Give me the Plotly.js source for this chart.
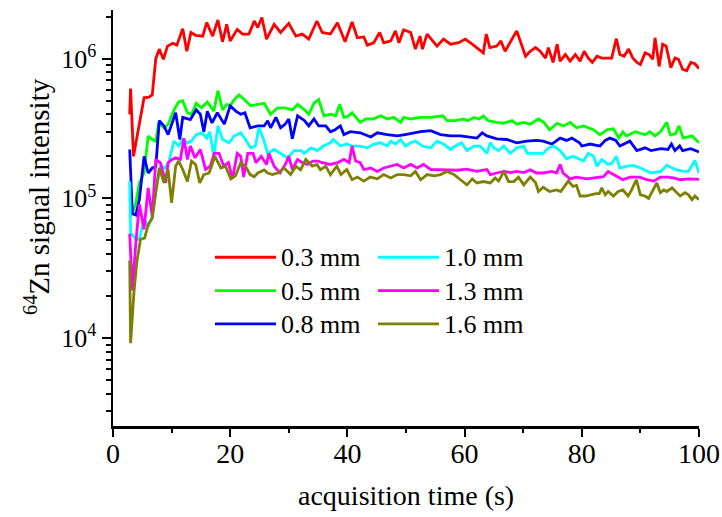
<!DOCTYPE html>
<html><head><meta charset="utf-8">
<script src="https://cdn.plot.ly/plotly-3.0.1.min.js"></script>
<style>html,body{margin:0;padding:0;background:#fff}#chart{width:722px;height:517px}</style>
</head><body><div id="chart"></div>
<script>
// acquisition time (s) and 64Zn signal intensity for each aperture
const tRed = [2.85,3.0,3.5,5.3,6.1,6.7,7.3,7.9,8.6,9.3,10.2,10.9,11.9,12.6,13.3,14.1,15.3,16.0,17.0,17.9,18.7,19.4,20.0,21.2,22.1,23.2,24.1,24.7,25.4,26.2,27.5,28.6,30.0,31.2,32.3,33.4,34.8,35.7,37.1,38.3,39.6,40.8,41.7,42.8,43.4,44.5,45.5,46.2,47.4,48.2,48.8,49.6,50.8,51.6,52.4,52.8,53.6,54.5,55.3,56.4,57.6,59.0,60.1,61.3,62.1,63.2,63.7,64.3,65.5,66.2,66.9,67.8,68.9,69.6,70.4,71.2,72.1,72.9,73.8,74.3,75.1,75.8,76.3,77.2,78.0,78.9,79.7,80.4,81.1,81.8,82.6,83.4,85.1,85.9,86.5,87.2,88.0,88.7,89.4,90.0,90.8,91.5,92.1,92.5,93.2,93.8,94.4,95.2,95.9,96.5,97.2,97.9,98.6,99.3,100];
const vRed = [4.0e5,6.1e5,2.0e5,5.25e5,5.3e5,5.5e5,1.0e6,1.17e6,9.9e5,1.23e6,1.29e6,1.25e6,1.64e6,1.13e6,1.54e6,1.47e6,1.45e6,1.81e6,1.45e6,1.89e6,1.32e6,1.76e6,1.34e6,1.62e6,1.50e6,1.50e6,1.86e6,1.67e6,1.97e6,1.38e6,1.76e6,1.54e6,1.79e6,1.45e6,1.50e6,1.38e6,1.86e6,1.54e6,1.50e6,1.81e6,1.32e6,1.83e6,1.41e6,1.43e6,1.25e6,1.30e6,1.54e6,1.30e6,1.34e6,1.58e6,1.30e6,1.61e6,1.54e6,1.17e6,1.45e6,1.17e6,1.50e6,1.34e6,1.23e6,1.38e6,1.27e6,1.30e6,1.38e6,1.27e6,1.20e6,1.10e6,1.50e6,1.20e6,1.23e6,1.34e6,1.13e6,1.32e6,1.58e6,1.30e6,1.04e6,1.13e6,1.20e6,1.13e6,1.01e6,1.20e6,9.4e5,1.27e6,9.6e5,1.07e6,9.6e5,1.07e6,9.6e5,1.13e6,1.01e6,9.4e5,1.04e6,1.01e6,1.01e6,1.39e6,1.07e6,1.04e6,1.17e6,1.01e6,9.4e5,9.1e5,1.10e6,1.07e6,9.9e5,1.41e6,8.8e5,1.27e6,1.23e6,8.6e5,1.01e6,9.9e5,8.4e5,8.2e5,9.4e5,9.2e5,8.5e5];

const tGreen = [2.85,3.3,3.9,4.5,5.3,6.0,6.7,7.3,7.8,8.7,9.4,10.4,11.2,11.9,12.7,13.4,14.2,15.1,16.1,17.2,17.9,18.7,19.4,20.0,20.7,21.5,22.4,23.5,24.7,25.8,26.9,28.1,29.3,30.6,31.5,32.7,33.4,34.3,35.1,36.0,37.1,38.0,38.7,39.4,40.0,40.8,42.2,43.1,44.4,45.7,46.8,47.9,49.1,49.6,50.8,52.5,54.2,55.3,56.3,57.0,58.4,59.9,60.5,61.6,62.5,63.2,64.0,65.5,66.6,68.1,68.9,70.1,71.2,72.6,73.5,74.5,75.8,76.9,78.0,79.1,80.3,82.0,83.1,84.3,85.4,86.3,87.0,87.6,89.1,90.8,91.6,92.5,93.4,94.5,95.1,96.0,96.6,97.3,98.8,100];
const vGreen = [7.4e4,7.8e4,9.3e4,1.29e5,1.52e5,2.79e5,2.64e5,2.57e5,3.47e5,3.2e5,3.38e5,4.3e5,4.9e5,5.0e5,4.1e5,4.0e5,4.8e5,4.45e5,4.9e5,4.2e5,5.9e5,4.3e5,4.7e5,4.6e5,5.1e5,5.5e5,5.1e5,4.6e5,4.7e5,4.8e5,4.0e5,4.45e5,4.45e5,4.3e5,4.7e5,4.3e5,4.0e5,4.8e5,5.1e5,3.9e5,4.0e5,3.9e5,4.7e5,3.8e5,3.85e5,4.1e5,3.5e5,3.7e5,3.7e5,3.9e5,3.7e5,3.8e5,3.5e5,3.8e5,3.7e5,3.8e5,3.8e5,3.85e5,3.9e5,3.6e5,3.6e5,3.7e5,3.6e5,3.8e5,3.7e5,3.9e5,3.6e5,3.5e5,3.45e5,3.6e5,3.4e5,3.5e5,3.4e5,3.7e5,3.5e5,3.1e5,3.45e5,3.3e5,3.5e5,3.2e5,3.3e5,3.1e5,2.85e5,3.1e5,3.15e5,2.7e5,3.0e5,2.8e5,3.0e5,2.85e5,3.0e5,2.8e5,3.0e5,3.5e5,2.85e5,2.9e5,3.3e5,2.7e5,2.8e5,2.5e5];

const tBlue = [2.85,3.3,3.9,4.5,5.3,6.0,6.7,7.3,7.9,8.7,9.4,10.0,10.7,11.4,11.9,13.2,14.2,14.9,15.5,16.1,16.9,17.8,19.0,20.0,21.0,21.8,22.5,23.4,24.7,25.8,26.4,26.9,27.8,28.6,29.4,30.0,30.6,31.5,32.7,33.4,34.3,35.1,36.3,37.1,37.9,38.8,39.4,40.5,42.2,44.0,45.1,46.8,48.5,49.6,51.3,52.5,54.2,55.9,57.6,59.3,62.1,63.0,63.8,65.5,67.2,68.9,70.6,72.3,73.4,74.9,76.3,77.4,78.3,79.6,80.0,81.4,83.1,84.0,84.8,85.8,86.5,88.2,89.4,90.8,91.8,93.5,94.7,95.3,95.9,96.7,97.2,98.6,100];
const vBlue = [2.24e5,7.8e4,7.6e4,9.8e4,2.0e5,1.52e5,1.65e5,1.68e5,3.6e5,3.3e5,2.86e5,3.38e5,4.1e5,2.64e5,3.8e5,3.67e5,4.3e5,4.0e5,3.0e5,4.2e5,3.47e5,4.1e5,3.4e5,4.6e5,4.2e5,4.0e5,4.1e5,3.2e5,3.3e5,3.3e5,3.6e5,3.2e5,3.8e5,3.2e5,3.4e5,3.7e5,2.67e5,3.9e5,3.6e5,3.3e5,3.7e5,3.3e5,3.3e5,3.0e5,3.1e5,3.3e5,2.86e5,3.0e5,2.95e5,2.75e5,2.95e5,2.86e5,2.8e5,2.85e5,2.95e5,3.0e5,3.05e5,2.86e5,2.8e5,2.8e5,2.7e5,2.95e5,2.8e5,2.67e5,2.64e5,2.5e5,2.57e5,2.6e5,2.57e5,2.45e5,2.7e5,2.6e5,2.7e5,2.5e5,2.37e5,2.45e5,2.37e5,2.6e5,2.7e5,2.6e5,2.37e5,2.57e5,2.2e5,2.3e5,2.2e5,2.27e5,2.24e5,2.45e5,2.2e5,2.37e5,2.2e5,2.27e5,2.15e5];

const tCyan = [2.85,3.0,3.9,4.5,5.3,6.0,6.7,7.3,8.1,8.9,9.5,10.4,11.2,11.9,12.7,13.4,14.2,15.2,16.0,16.5,17.2,17.9,18.7,19.8,20.7,21.8,22.6,23.5,24.3,24.9,25.7,26.4,27.5,28.6,29.8,30.9,32.1,32.6,33.8,34.9,35.9,37.1,37.6,38.8,39.9,40.8,42.2,43.4,44.5,45.7,46.8,47.4,48.2,49.1,49.9,50.8,51.6,52.8,54.2,55.3,56.4,57.6,58.4,59.5,60.4,61.6,62.7,63.8,64.4,65.0,65.8,66.7,67.8,68.9,70.1,70.7,72.3,73.4,74.3,75.2,76.3,77.4,78.5,80.3,81.1,82.0,82.6,83.4,84.5,85.1,85.9,86.5,87.7,88.8,90.0,91.8,93.5,94.5,95.4,96.2,97.4,98.2,99.3,100];
const vCyan = [1.32e5,5.7e4,5.1e4,5.1e4,7.2e4,6.3e4,7.4e4,1.15e5,1.7e5,1.65e5,1.8e5,2.57e5,2.37e5,2.64e5,2.5e5,2.57e5,2.86e5,2.95e5,2.7e5,3.0e5,2.0e5,3.3e5,2.64e5,2.5e5,2.8e5,2.95e5,2.64e5,2.3e5,2.37e5,3.2e5,2.64e5,2.1e5,2.24e5,2.1e5,1.95e5,2.2e5,2.2e5,2.1e5,2.3e5,2.2e5,2.37e5,2.5e5,2.64e5,2.37e5,2.45e5,2.37e5,2.37e5,2.3e5,2.45e5,2.5e5,2.37e5,2.57e5,2.45e5,2.64e5,2.37e5,2.5e5,2.57e5,2.37e5,2.3e5,2.57e5,2.45e5,2.24e5,2.37e5,2.5e5,2.2e5,2.37e5,2.37e5,2.1e5,2.5e5,2.3e5,2.2e5,2.37e5,2.1e5,2.3e5,2.37e5,2.1e5,2.1e5,2.1e5,2.3e5,2.37e5,2.2e5,1.92e5,2.0e5,1.85e5,2.1e5,2.0e5,1.7e5,1.9e5,1.75e5,1.78e5,2.0e5,1.65e5,1.7e5,1.72e5,1.65e5,1.52e5,1.56e5,1.73e5,1.65e5,1.6e5,1.56e5,1.56e5,1.87e5,1.52e5];

const tMagenta = [2.85,3.3,3.9,4.5,5.3,6.0,6.7,7.3,8.1,9.0,9.4,10.1,10.7,11.5,12.1,12.7,13.2,14.0,14.9,15.8,16.6,17.3,18.1,18.9,19.7,20.4,21.2,21.8,22.3,23.0,23.9,24.4,25.3,26.2,26.6,27.5,28.5,29.4,30.0,30.6,31.5,32.3,33.2,34.1,35.0,35.7,37.1,38.3,39.4,40.3,40.8,41.4,42.2,42.8,44.0,45.1,46.2,47.4,48.5,49.6,50.8,51.9,53.0,54.2,55.9,57.0,58.7,60.4,62.1,63.8,64.4,65.5,66.7,67.8,68.9,70.1,71.2,72.3,73.4,74.9,75.7,76.3,76.8,78.0,79.1,80.8,82.6,83.7,84.5,85.4,87.0,88.2,89.9,91.1,92.3,93.4,94.5,95.7,96.8,98.2,100];
const vMagenta = [5.6e4,2.2e4,4.8e4,9.1e4,6.0e4,1.19e5,7.4e4,1.9e5,1.8e5,1.29e5,1.8e5,1.9e5,1.95e5,1.9e5,2.7e5,1.9e5,2.37e5,1.95e5,2.24e5,1.61e5,1.7e5,2.1e5,2.1e5,1.7e5,1.8e5,1.38e5,2.1e5,2.0e5,1.42e5,2.1e5,2.1e5,1.8e5,2.0e5,1.75e5,2.1e5,1.7e5,1.52e5,1.75e5,2.0e5,1.61e5,1.9e5,1.8e5,1.75e5,1.85e5,1.85e5,1.8e5,1.75e5,1.8e5,1.9e5,1.8e5,2.37e5,1.85e5,1.8e5,1.61e5,1.65e5,1.56e5,1.65e5,1.7e5,1.75e5,1.65e5,1.75e5,1.65e5,1.75e5,1.61e5,1.61e5,1.61e5,1.59e5,1.62e5,1.56e5,1.61e5,1.48e5,1.52e5,1.56e5,1.53e5,1.56e5,1.53e5,1.6e5,1.52e5,1.52e5,1.56e5,1.52e5,1.75e5,1.52e5,1.38e5,1.42e5,1.38e5,1.42e5,1.43e5,1.56e5,1.48e5,1.36e5,1.42e5,1.42e5,1.36e5,1.33e5,1.42e5,1.42e5,1.4e5,1.36e5,1.38e5,1.37e5];

const tOlive = [2.85,3.0,3.6,4.1,4.7,5.4,6.0,6.7,7.3,7.9,8.7,9.4,10.0,10.7,11.2,11.9,12.7,13.4,14.1,14.8,15.5,16.4,17.4,18.4,19.2,20.1,20.9,21.8,22.6,23.4,24.1,24.7,25.8,26.4,27.2,28.1,29.2,30.3,31.2,32.0,32.9,33.4,34.0,34.8,35.4,36.3,37.1,38.2,38.9,39.9,40.8,41.7,42.8,43.9,45.1,46.2,47.4,48.5,49.6,50.8,51.6,52.5,53.6,54.8,55.9,57.0,58.2,59.3,60.4,61.3,62.1,63.2,64.4,65.2,65.8,66.7,67.5,68.4,69.2,70.1,71.2,72.1,72.6,73.4,74.5,75.7,76.4,77.7,78.5,79.1,79.7,80.6,81.5,82.4,83.0,83.4,84.0,84.5,85.4,86.2,87.0,87.9,88.5,89.3,90.0,90.8,91.4,92.2,92.8,93.4,94.0,94.5,95.4,96.0,96.8,97.6,98.2,98.8,99.3,100];
const vOlive = [3.6e4,9.2e3,2.2e4,3.6e4,5.1e4,5.2e4,6.5e4,7.2e4,1.09e5,1.65e5,1.29e5,1.61e5,9.3e4,1.7e5,1.85e5,1.61e5,1.32e5,1.85e5,1.75e5,1.29e5,1.48e5,1.52e5,2.0e5,1.65e5,1.7e5,1.38e5,1.45e5,1.8e5,1.7e5,1.48e5,1.43e5,1.52e5,1.6e5,1.52e5,1.48e5,1.52e5,1.65e5,1.48e5,1.7e5,1.6e5,1.9e5,1.8e5,1.7e5,1.75e5,1.6e5,1.7e5,1.48e5,1.7e5,1.48e5,1.61e5,1.36e5,1.42e5,1.33e5,1.42e5,1.38e5,1.48e5,1.4e5,1.48e5,1.48e5,1.45e5,1.56e5,1.36e5,1.48e5,1.45e5,1.48e5,1.56e5,1.48e5,1.36e5,1.25e5,1.38e5,1.29e5,1.32e5,1.29e5,1.4e5,1.33e5,1.56e5,1.32e5,1.32e5,1.42e5,1.25e5,1.42e5,1.3e5,1.12e5,1.2e5,1.12e5,1.15e5,1.12e5,1.33e5,1.22e5,1.24e5,1.04e5,1.04e5,1.06e5,1.08e5,1.08e5,1.19e5,1.06e5,1.12e5,1.04e5,1.12e5,1.15e5,1.04e5,1.15e5,1.36e5,1.06e5,1.04e5,1.0e5,1.15e5,1.29e5,1.1e5,1.15e5,1.12e5,1.19e5,1.12e5,1.04e5,1.1e5,1.06e5,9.8e4,1.04e5,9.8e4];

const seriesNames = ['0.3 mm','0.5 mm','0.8 mm','1.0 mm','1.3 mm','1.6 mm'];
const seriesColors = ['#FF0000','#00FF00','#0000FF','#00FFFF','#FF00FF','#808000'];
const seriesT = [tRed,tGreen,tBlue,tCyan,tMagenta,tOlive];
const seriesV = [vRed,vGreen,vBlue,vCyan,vMagenta,vOlive];
const seriesLegend = ['legend','legend','legend','legend2','legend2','legend2'];

const yTickVals = [1e4,1e5,1e6];
const yTickText = ['10<sup>4</sup>','10<sup>5</sup>','10<sup>6</sup>'];
const yMinor = [];
for (let e = 3; e <= 6; e++) for (let m = 2; m <= 9; m++) { const v = m * Math.pow(10, e); if (v > 2350 && v < 2.23e6) yMinor.push(v); }

const FONT = 'Liberation Serif, Times New Roman, serif';
const traces = seriesNames.map((n, i) => ({
  type: 'scatter', mode: 'lines', x: seriesT[i], y: seriesV[i],
  name: '<span style="font-size:26px">' + n + '</span>',
  legend: seriesLegend[i],
  line: {color: seriesColors[i], width: 2.8}
}));

const legendBase = {xanchor:'left', yanchor:'top', bgcolor:'rgba(0,0,0,0)', borderwidth:0,
  font:{family:FONT, size:23.3, color:'black'}, itemwidth:61, tracegroupgap:0};

const layout = {
  width: 722, height: 517,
  margin: {l:113, r:23, t:10, b:91},
  paper_bgcolor: 'white', plot_bgcolor: 'white',
  font: {family: FONT, color: 'black', size: 26},
  showlegend: true,
  xaxis: {
    range: [0, 100], tick0: 0, dtick: 20, ticks: 'outside', ticklen: 8, tickwidth: 2, tickcolor: 'black',
    showline: true, linewidth: 2.5, linecolor: 'black', showgrid: false, zeroline: false,
    tickfont: {family: FONT, size: 28, color: 'black'}, ticklabelstandoff: -7,
    minor: {dtick: 10, ticks: 'outside', ticklen: 4, tickwidth: 2, tickcolor: 'black', showgrid: false}
  },
  yaxis: {
    type: 'log', range: [Math.log10(2350), Math.log10(2.23e6)],
    tickmode: 'array', tickvals: yTickVals, ticktext: yTickText,
    ticks: 'outside', ticklen: 9, tickwidth: 2, tickcolor: 'black',
    showline: true, linewidth: 2.5, linecolor: 'black', showgrid: false, zeroline: false,
    tickfont: {family: FONT, size: 26, color: 'black'},
    minor: {tickmode: 'array', tickvals: yMinor, ticks: 'outside', ticklen: 5, tickwidth: 2, tickcolor: 'black', showgrid: false}
  },
  legend: Object.assign({}, legendBase, {x: 0.1655, y: 0.4577}),
  legend2: Object.assign({}, legendBase, {x: 0.4437, y: 0.4577}),
  annotations: [
    {text: '<sup>64</sup>Zn signal intensity', xref: 'paper', yref: 'paper', x: -0.1297, y: 0.553,
     xanchor: 'center', yanchor: 'middle', textangle: -90, showarrow: false,
     font: {family: FONT, size: 29, color: 'black'}},
    {text: 'acquisition time (s)', xref: 'paper', yref: 'paper', x: 0.5, y: -0.168,
     xanchor: 'center', yanchor: 'middle', showarrow: false,
     font: {family: FONT, size: 28, color: 'black'}}
  ]
};

Plotly.newPlot('chart', traces, layout, {displayModeBar: false, staticPlot: true});
</script>
</body></html>
